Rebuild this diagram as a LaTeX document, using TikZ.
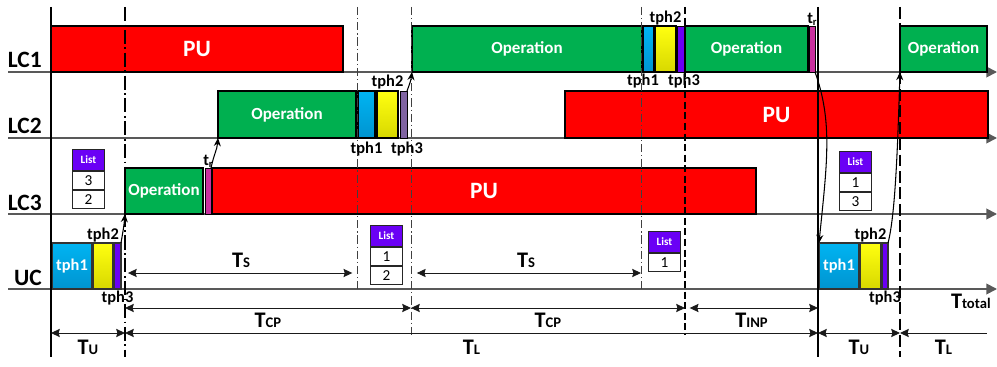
\documentclass[tikz,border=0pt]{standalone}
\usepackage{fontspec}
\setmainfont{Carlito}
\usetikzlibrary{arrows.meta, positioning}
\definecolor{pucol}{HTML}{FF0000}
\definecolor{opcol}{HTML}{00B050}
\definecolor{phAcol}{HTML}{00B4F2}
\definecolor{phAdark}{HTML}{0094D0}
\definecolor{phBcol}{HTML}{FFFF10}
\definecolor{phBdark}{HTML}{D8D800}
\definecolor{phCcol}{HTML}{6A00F5}
\definecolor{phCgray}{HTML}{8064A2}
\definecolor{trcol}{HTML}{C8309E}
\definecolor{axiscol}{HTML}{595959}
\definecolor{dimcol}{HTML}{1A1A1A}
% one time slot: name, x from, x to, y top, y bottom, style, text
\newcommand{\tblock}[7]{\node[#6, anchor=north west, minimum width={(#3-#2)*0.03cm},
    minimum height={(#5-#4)*0.03cm}] (#1) at (#2,#4) {#7};}
\newcommand{\tsym}[1]{{\fontsize{19}{20}\selectfont T}{\fontsize{12.5}{13}\selectfont #1}}
\newcommand{\trsym}{t\raisebox{-1.5pt}{\fontsize{9}{10}\selectfont r}}

\begin{document}
\begin{tikzpicture}[x=0.03cm, y=-0.03cm,
    every node/.style={font=\bfseries},
    box/.style={rectangle, draw=black, line width=1.2pt, inner sep=0pt, outer sep=0pt, text=white},
    pubar/.style={box, fill=pucol, font=\fontsize{20}{22}\selectfont\bfseries},
    opbar/.style={box, fill=opcol, font=\fontsize{14.5}{16}\selectfont\bfseries},
    phone/.style={box, top color=phAcol, bottom color=phAdark, font=\fontsize{14}{16}\selectfont\bfseries},
    phtwo/.style={box, top color=phBcol, bottom color=phBdark},
    phthree/.style={box, fill=phCcol, line width=0.8pt},
    trbar/.style={box, fill=trcol, line width=0.8pt},
    ucbox/.style={line width=0.9pt, draw=black!80},
    lbl/.style={font=\fontsize{14}{16}\selectfont\bfseries, inner sep=0.5pt},
    lane/.style={font=\fontsize{20}{22}\selectfont\bfseries, inner sep=0pt, anchor=base east},
    axis/.style={axiscol, line width=1.5pt, -{Triangle[length=9pt,width=9pt]}},
    arr/.style={-{Stealth[length=7pt,width=6pt]}, line width=0.9pt},
    dim/.style={{Stealth[length=7.5pt,width=7pt,inset=1pt]}-{Stealth[length=7.5pt,width=7pt,inset=1pt]},
                dimcol, line width=0.8pt},
    dimL/.style={{Stealth[length=7.5pt,width=7pt,inset=1pt]}-, dimcol, line width=0.8pt},
    tlbl/.style={inner sep=1pt, text=black},
    listhd/.style={rectangle, draw=black!85, line width=0.8pt, fill=phCcol, text=white,
                   minimum width=0.96cm, minimum height=0.63cm, inner sep=0pt,
                   font=\fontsize{9.5}{10}\selectfont\bfseries},
    listrow/.style={rectangle, draw=black!85, line width=0.8pt, fill=white,
                    minimum width=0.96cm, minimum height=0.54cm, inner sep=0pt,
                    font=\fontsize{13}{14}\selectfont\mdseries},
    solidv/.style={line width=1.3pt},
    dashdotv/.style={line width=1.4pt, dash pattern=on 12pt off 3pt on 1.5pt off 3pt},
    thinv/.style={line width=0.6pt, black!75, dash pattern=on 7pt off 2.5pt on 1pt off 2.5pt},
    dashv/.style={line width=0.9pt, dash pattern=on 6pt off 3pt},
    dashbv/.style={line width=1.5pt, dash pattern=on 10pt off 4pt},
]
\useasboundingbox (0,0) rectangle (997,367);

% lanes
\foreach \y/\n in {72/LC1, 138/LC2, 214/LC3, 289/UC} {
    \draw[axis] (8,\y) -- (997,\y);
    \node[lane] (lane\n) at (42,\y-4) {\n};
}

% LC1
\tblock{lcApu}{51}{343}{26}{72}{pubar}{PU}
\tblock{lcAop}{412}{642}{26}{72}{opbar}{Operation}
\tblock{lcAph1}{643}{654}{26}{72}{phone}{}
\tblock{lcAph2}{655}{676}{26}{72}{phtwo}{}
\tblock{lcAph3}{677}{684}{26}{72}{phthree}{}
\tblock{lcAopb}{685}{808}{26}{72}{opbar}{Operation}
\tblock{lcAtr}{809}{815}{26}{72}{trbar}{}
\tblock{lcAopc}{900}{987}{26}{72}{opbar}{Operation}

% LC2
\tblock{lcBop}{218}{356}{91}{138}{opbar}{Operation}
\tblock{lcBph1}{358}{375}{91}{138}{phone}{}
\tblock{lcBph2}{377}{398}{91}{138}{phtwo}{}
\tblock{lcBph3}{400}{407}{91}{138}{phthree, fill=phCgray}{}
\tblock{lcBpu}{565}{988}{91}{138}{pubar}{PU}

% LC3
\tblock{lcCop}{125}{203}{168}{214}{opbar}{Operation}
\tblock{lcCtr}{205}{211}{168}{214}{trbar}{}
\tblock{lcCpu}{212}{756}{168}{214}{pubar}{PU}

% UC
\tblock{ucAph1}{52}{92}{243}{289}{phone, ucbox}{tph1}
\tblock{ucAph2}{93}{113}{243}{289}{phtwo, ucbox}{}
\tblock{ucAph3}{114}{121}{243}{289}{phthree, ucbox}{}
\tblock{ucBph1}{819}{859}{243}{289}{phone, ucbox}{tph1}
\tblock{ucBph2}{860}{881}{243}{289}{phtwo, ucbox}{}
\tblock{ucBph3}{882}{888}{243}{289}{phthree, ucbox}{}

% time marks
\coordinate (top) at (0,7);
\coordinate (ucbase) at (0,289);
\coordinate (dimbase) at (0,335);
\coordinate (bottom) at (0,357);
\coordinate (tA) at (51,0);
\coordinate (tB) at (125,0);
\coordinate (tC) at (357,0);
\coordinate (tD) at (411,0);
\coordinate (tE) at (641,0);
\coordinate (tF) at (685,0);
\coordinate (tG) at (818,0);
\coordinate (tH) at (900,0);
\coordinate (tEnd) at (987,0);

\draw[solidv] (tA |- top) -- (tA |- bottom);
\draw[dashdotv] (tB |- top) -- (tB |- bottom);
\draw[thinv] (tC |- top) -- (tC |- ucbase);
\draw[thinv] (tD |- top) -- (tD |- dimbase);
\draw[thinv] (tE |- top) -- (tE |- ucbase);
\draw[dashv] (tF |- top) -- (tF |- dimbase);
\draw[solidv, line width=1pt] (tG |- top) -- (tG |- bottom);
\draw[dashbv] (tH |- top) -- (tH |- bottom);

% phase labels
\node[lbl, above=0pt of lcAph2] (lcAph2t) {tph2};
\node[lbl, below=1pt of lcAph1.south west] (lcAph1t) {tph1};
\node[lbl, below=1pt of lcAph3.south east] (lcAph3t) {tph3};
\node[lbl, above=0pt of lcAtr] (lcAtrt) {\trsym};
\node[lbl, above=1pt of lcBph2] (lcBph2t) {tph2};
\node[lbl, below=3pt of lcBph1] (lcBph1t) {tph1};
\node[lbl, below=3pt of lcBph3.south east] (lcBph3t) {tph3};
\node[lbl, above=0pt of lcCtr] (lcCtrt) {\trsym};
\node[lbl, above=0pt of ucAph2] (ucAph2t) {tph2};
\node[lbl, below=1pt of ucAph3] (ucAph3t) {tph3};
\node[lbl, above=0pt of ucBph2] (ucBph2t) {tph2};
\node[lbl, below=1pt of ucBph3] (ucBph3t) {tph3};

% lists
\node[listhd, anchor=north west] (lstA) at (72,149) {List};
\node[listrow, below=0pt of lstA] (lstA1) {3};
\node[listrow, below=0pt of lstA1] (lstA2) {2};
\node[listhd, anchor=north west] (lstB) at (370,225) {List};
\node[listrow, below=0pt of lstB] (lstB1) {1};
\node[listrow, below=0pt of lstB1] (lstB2) {2};
\node[listhd, anchor=north west] (lstC) at (648,231) {List};
\node[listrow, below=0pt of lstC] (lstC1) {1};
\node[listhd, anchor=north west] (lstD) at (839,151) {List};
\node[listrow, below=0pt of lstD] (lstD1) {1};
\node[listrow, below=0pt of lstD1] (lstD2) {3};

% hand-over arrows
\draw[arr] (ucAph3.north east) .. controls +(2,-12) and +(-1,12) .. (lcCop.south west);
\draw[arr] (lcCtr.north east) .. controls +(3,-14) and +(-1,12) .. (lcBop.south west);
\draw[arr] (lcBph3.north east) .. controls +(3,-8) and +(-1,8) .. (lcAop.south west);
\draw[arr] (lcAtr.south east) .. controls +(18,50) and +(8,-80) .. (ucBph1.north west);
\draw[arr] (ucBph3.north east) .. controls +(8,-30) and +(-2,60) .. (lcAopc.south west);

% durations
\coordinate (rowS) at (0,273);
\coordinate (rowC) at (0,308);
\coordinate (rowL) at (0,333);
\draw[dim, shorten <=2.5pt, shorten >=4pt] (tB |- rowS) -- node[tlbl, above=3pt] (tsA) {\tsym{S}} (tC |- rowS);
\draw[dim, shorten <=5pt] (tD |- rowS) -- node[tlbl, above=3pt] (tsB) {\tsym{S}} (tE |- rowS);
\draw[dim] (tB |- rowC) -- node[tlbl, below=3pt] (tcpA) {\tsym{CP}} (tD |- rowC);
\draw[dim] (tD |- rowC) -- node[tlbl, below=3pt] (tcpB) {\tsym{CP}} (tF |- rowC);
\draw[dim, shorten <=4pt] (tF |- rowC) -- node[tlbl, below=3pt] (tinp) {\tsym{INP}} (tG |- rowC);
\draw[dim] (tA |- rowL) -- node[tlbl, below=5pt] (tuA) {\tsym{U}} (tB |- rowL);
\draw[dim] (tB |- rowL) -- node[tlbl, below=5pt] (tlA) {\tsym{L}} (tG |- rowL);
\draw[dim] (tG |- rowL) -- node[tlbl, below=5pt] (tuB) {\tsym{U}} (tH |- rowL);
\draw[dimL] (tH |- rowL) -- node[tlbl, below=5pt] (tlB) {\tsym{L}} (tEnd |- rowL);
\node[tlbl, anchor=north east] (ttot) at (992,293) {\tsym{total}};

\end{tikzpicture}
\end{document}
